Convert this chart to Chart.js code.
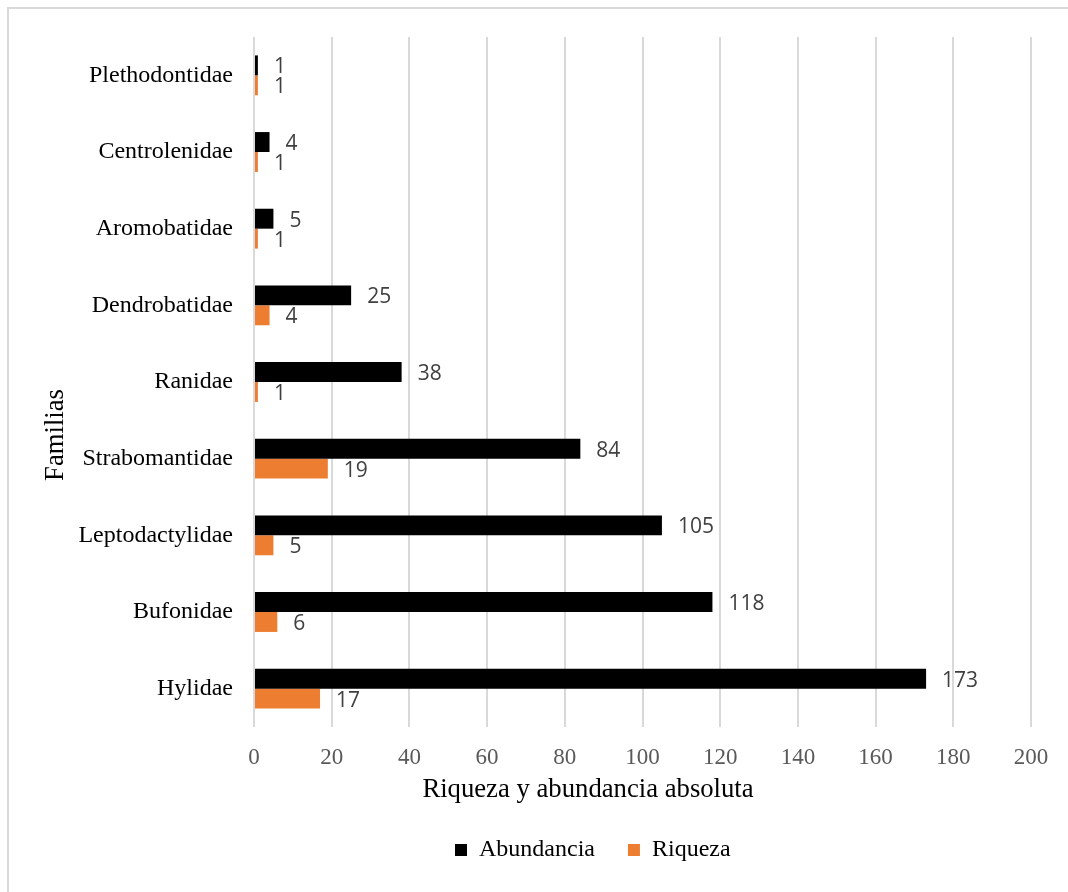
<!DOCTYPE html>
<html>
<head>
<meta charset="utf-8">
<script src="https://cdn.jsdelivr.net/npm/chart.js@4.4.1/dist/chart.umd.min.js"></script>
<style>
  html, body { margin: 0; padding: 0; background: #fff; }
  #wrap { width: 1068px; height: 892px; position: relative; }
</style>
</head>
<body>
<div id="wrap"><canvas id="familiasChart"></canvas></div>
<script>
// Datos (de arriba hacia abajo)
const familias = ['Plethodontidae', 'Centrolenidae', 'Aromobatidae', 'Dendrobatidae', 'Ranidae',
                  'Strabomantidae', 'Leptodactylidae', 'Bufonidae', 'Hylidae'];
const abundancia = [1, 4, 5, 25, 38, 84, 105, 118, 173];
const riqueza = [1, 1, 1, 4, 1, 19, 5, 6, 17];
const xTicks = [0, 20, 40, 60, 80, 100, 120, 140, 160, 180, 200];

const serif = '"Liberation Serif", "Times New Roman", serif';
const padIzq = 10;
const legendPad = 33;

// Marco gris del área del gráfico
const marco = {
    id: 'marco',
    beforeDraw(chart) {
        const ctx = chart.ctx;
        ctx.save();
        ctx.strokeStyle = '#d9d9d9';
        ctx.lineWidth = 2;
        ctx.beginPath();
        ctx.moveTo(8, chart.height);
        ctx.lineTo(8, 8);
        ctx.lineTo(chart.width, 8);
        ctx.stroke();
        ctx.restore();
    }
};

// Mover la leyenda hacia la izquierda (como en el original)
const moverLeyenda = {
    id: 'moverLeyenda',
    afterLayout(chart) {
        const lg = chart.legend;
        const w = lg.right - lg.left;
        lg.left = 455 - legendPad;
        lg.right = lg.left + w;
    }
};

// Etiquetas de valores al final de cada barra
const etiquetas = {
    id: 'etiquetas',
    afterDatasetsDraw(chart) {
        const ctx = chart.ctx;
        ctx.save();
        ctx.font = '21px "Open Sans", Lato, sans-serif';
        ctx.fillStyle = '#404040';
        ctx.textAlign = 'left';
        ctx.textBaseline = 'middle';
        chart.data.datasets.forEach((ds, i) => {
            chart.getDatasetMeta(i).data.forEach((bar, j) => {
                ctx.fillText(String(ds.data[j]), bar.x + 16, bar.y + 2);
            });
        });
        ctx.restore();
    }
};

// Títulos de los ejes
const titulos = {
    id: 'titulos',
    afterDraw(chart) {
        const ctx = chart.ctx;
        const area = chart.chartArea;
        ctx.save();
        ctx.fillStyle = '#000';
        ctx.font = '26.7px ' + serif;
        ctx.textAlign = 'center';
        ctx.textBaseline = 'middle';
        ctx.fillText('Riqueza y abundancia absoluta', 588, area.bottom + 63);
        ctx.translate(56, 435);
        ctx.rotate(-Math.PI / 2);
        ctx.fillText('Familias', 0, 0);
        ctx.restore();
    }
};

const ctx = document.getElementById('familiasChart').getContext('2d');
new Chart(ctx, {
    type: 'bar',
    data: {
        labels: familias,
        datasets: [{
            label: 'Abundancia',
            data: abundancia,
            backgroundColor: '#000000',
            categoryPercentage: 0.52,
            barPercentage: 1.0
        }, {
            label: 'Riqueza',
            data: riqueza,
            backgroundColor: '#ed7d31',
            categoryPercentage: 0.52,
            barPercentage: 1.0
        }]
    },
    options: {
        indexAxis: 'y',
        responsive: true,
        maintainAspectRatio: false,
        animation: false,
        layout: { padding: { left: padIzq, right: 37, top: 37, bottom: 20 } },
        scales: {
            x: {
                min: 0,
                max: 200,
                afterBuildTicks: scale => { scale.ticks = xTicks.map(v => ({ value: v })); },
                afterFit: scale => { scale.height = 78; },
                grid: { color: '#d9d9d9', lineWidth: 2, drawTicks: false },
                border: { display: false },
                ticks: { color: '#595959', font: { family: serif, size: 23 }, padding: 17 }
            },
            y: {
                afterFit: scale => { scale.width = 254 - padIzq; },
                grid: { display: false, drawTicks: false },
                border: { display: false },
                ticks: { color: '#000', font: { family: serif, size: 24 }, padding: 21 }
            }
        },
        plugins: {
            legend: {
                position: 'bottom',
                align: 'start',
                labels: {
                    boxWidth: 12,
                    boxHeight: 12,
                    padding: legendPad,
                    color: '#000',
                    font: { family: serif, size: 24 }
                }
            },
            tooltip: { enabled: false }
        }
    },
    plugins: [marco, moverLeyenda, etiquetas, titulos]
});
</script>
</body>
</html>
